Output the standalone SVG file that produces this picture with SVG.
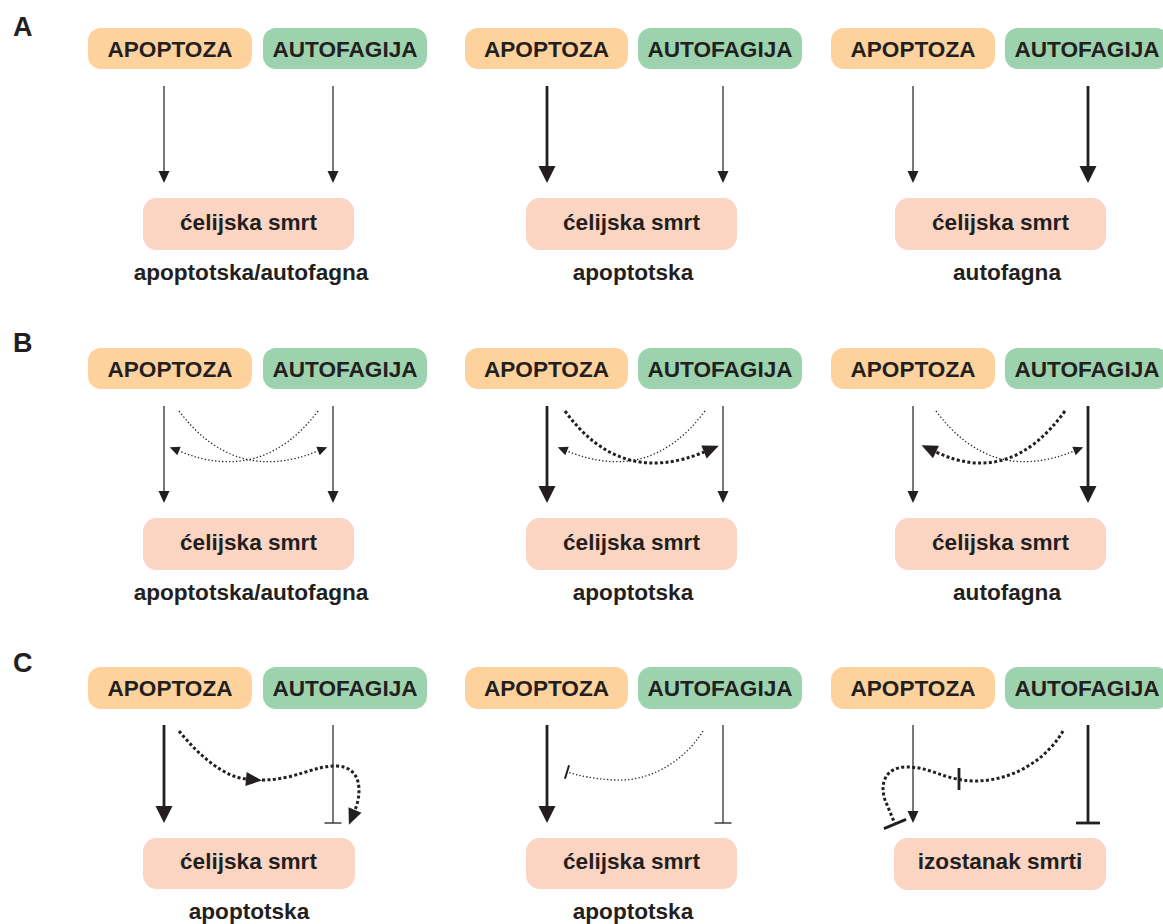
<svg xmlns="http://www.w3.org/2000/svg" width="1163" height="924" viewBox="0 0 1163 924">
<style>
.t{font-family:"Liberation Sans",Arial,sans-serif;font-weight:bold;font-size:22.6px;fill:#231f20;text-anchor:middle}
.lt{font-family:"Liberation Sans",Arial,sans-serif;font-weight:bold;font-size:27px;fill:#231f20}
.apo{fill:#fed29c}
.aut{fill:#9cd3ae}
.cs{fill:#fcd4c2}
.thin{stroke:#231f20;stroke-width:1.2;fill:none}
.thick{stroke:#231f20;stroke-width:2.8;fill:none}
.dt{stroke:#231f20;stroke-width:1.3;fill:none;stroke-dasharray:1.3 2.2}
.dk{stroke:#231f20;stroke-width:3;fill:none;stroke-dasharray:3 2.4}
marker{overflow:visible}
</style>
<defs>
<marker id="ah" viewBox="0 0 12 11" refX="0" refY="5.5" markerWidth="12" markerHeight="11" orient="auto" markerUnits="userSpaceOnUse"><path d="M0,0L12,5.5L0,11z" fill="#231f20"/></marker>
<marker id="ahT" viewBox="0 0 17 17" refX="0" refY="8.5" markerWidth="17" markerHeight="17" orient="auto" markerUnits="userSpaceOnUse"><path d="M0,0L17,8.5L0,17z" fill="#231f20"/></marker>
<marker id="ahc" viewBox="0 0 10 9" refX="0" refY="4.5" markerWidth="10" markerHeight="9" orient="auto" markerUnits="userSpaceOnUse"><path d="M0,0L10,4.5L0,9z" fill="#231f20"/></marker>
<marker id="ahcT" viewBox="0 0 16 14" refX="0" refY="7" markerWidth="16" markerHeight="14" orient="auto" markerUnits="userSpaceOnUse"><path d="M0,0L16,7L0,14z" fill="#231f20"/></marker>
<marker id="tb" viewBox="-1 -9 2 18" refX="0" refY="0" markerWidth="2" markerHeight="18" orient="auto" markerUnits="userSpaceOnUse"><path d="M0,-8.5V8.5" stroke="#231f20" stroke-width="1.3"/></marker>
<marker id="tbT" viewBox="-2 -12 4 24" refX="0" refY="0" markerWidth="4" markerHeight="24" orient="auto" markerUnits="userSpaceOnUse"><path d="M0,-12V12" stroke="#231f20" stroke-width="2.8"/></marker>
<marker id="tbc" viewBox="-1 -7 2 14" refX="0" refY="0" markerWidth="2" markerHeight="14" orient="auto" markerUnits="userSpaceOnUse"><path d="M0,-7V7" stroke="#231f20" stroke-width="2"/></marker>
<marker id="tbcT" viewBox="-2 -12 4 24" refX="0" refY="0" markerWidth="4" markerHeight="24" orient="auto" markerUnits="userSpaceOnUse"><path d="M0,-12V12" stroke="#231f20" stroke-width="2.8"/></marker>
</defs>

<g id="labels">
<text class="lt" x="13" y="36">A</text>
<text class="lt" x="13" y="352">B</text>
<text class="lt" x="13" y="672">C</text>
</g>

<!-- Row A -->
<g id="A1-apoptoza"><rect class="apo" x="88" y="28" width="164" height="41" rx="13"/><text class="t" x="170" y="57">APOPTOZA</text></g>
<g id="A1-autofagija"><rect class="aut" x="263" y="28" width="164" height="41" rx="13"/><text class="t" x="345" y="57">AUTOFAGIJA</text></g>
<g id="A1-smrt"><rect class="cs" x="143" y="198" width="211" height="52" rx="14"/><text class="t" x="248.5" y="230">ćelijska smrt</text><text class="t" x="251" y="280">apoptotska/autofagna</text></g>

<g id="A2-apoptoza"><rect class="apo" x="465" y="28" width="163" height="41" rx="13"/><text class="t" x="546.5" y="57">APOPTOZA</text></g>
<g id="A2-autofagija"><rect class="aut" x="638" y="28" width="164" height="41" rx="13"/><text class="t" x="720" y="57">AUTOFAGIJA</text></g>
<g id="A2-smrt"><rect class="cs" x="526" y="198" width="211" height="52" rx="14"/><text class="t" x="631.5" y="230">ćelijska smrt</text><text class="t" x="633" y="280">apoptotska</text></g>

<g id="A3-apoptoza"><rect class="apo" x="831" y="28" width="164" height="41" rx="13"/><text class="t" x="913" y="57">APOPTOZA</text></g>
<g id="A3-autofagija"><rect class="aut" x="1005" y="28" width="164" height="41" rx="13"/><text class="t" x="1087" y="57">AUTOFAGIJA</text></g>
<g id="A3-smrt"><rect class="cs" x="895" y="198" width="211" height="52" rx="14"/><text class="t" x="1000.5" y="230">ćelijska smrt</text><text class="t" x="1007" y="280">autofagna</text></g>

<!-- Row B -->
<g id="B1-apoptoza"><rect class="apo" x="88" y="348" width="164" height="41" rx="13"/><text class="t" x="170" y="377">APOPTOZA</text></g>
<g id="B1-autofagija"><rect class="aut" x="263" y="348" width="164" height="41" rx="13"/><text class="t" x="345" y="377">AUTOFAGIJA</text></g>
<g id="B1-smrt"><rect class="cs" x="143" y="518" width="211" height="52" rx="14"/><text class="t" x="248.5" y="550">ćelijska smrt</text><text class="t" x="251" y="600">apoptotska/autofagna</text></g>

<g id="B2-apoptoza"><rect class="apo" x="465" y="348" width="163" height="41" rx="13"/><text class="t" x="546.5" y="377">APOPTOZA</text></g>
<g id="B2-autofagija"><rect class="aut" x="638" y="348" width="164" height="41" rx="13"/><text class="t" x="720" y="377">AUTOFAGIJA</text></g>
<g id="B2-smrt"><rect class="cs" x="526" y="518" width="211" height="52" rx="14"/><text class="t" x="631.5" y="550">ćelijska smrt</text><text class="t" x="633" y="600">apoptotska</text></g>

<g id="B3-apoptoza"><rect class="apo" x="831" y="348" width="164" height="41" rx="13"/><text class="t" x="913" y="377">APOPTOZA</text></g>
<g id="B3-autofagija"><rect class="aut" x="1005" y="348" width="164" height="41" rx="13"/><text class="t" x="1087" y="377">AUTOFAGIJA</text></g>
<g id="B3-smrt"><rect class="cs" x="895" y="518" width="211" height="52" rx="14"/><text class="t" x="1000.5" y="550">ćelijska smrt</text><text class="t" x="1007" y="600">autofagna</text></g>

<!-- Row C -->
<g id="C1-apoptoza"><rect class="apo" x="88" y="667" width="164" height="42" rx="13"/><text class="t" x="170" y="696">APOPTOZA</text></g>
<g id="C1-autofagija"><rect class="aut" x="263" y="667" width="164" height="42" rx="13"/><text class="t" x="345" y="696">AUTOFAGIJA</text></g>
<g id="C1-smrt"><rect class="cs" x="143" y="838" width="212" height="51" rx="14"/><text class="t" x="248.5" y="869">ćelijska smrt</text><text class="t" x="249" y="919">apoptotska</text></g>

<g id="C2-apoptoza"><rect class="apo" x="465" y="667" width="163" height="42" rx="13"/><text class="t" x="546.5" y="696">APOPTOZA</text></g>
<g id="C2-autofagija"><rect class="aut" x="638" y="667" width="164" height="42" rx="13"/><text class="t" x="720" y="696">AUTOFAGIJA</text></g>
<g id="C2-smrt"><rect class="cs" x="526" y="838" width="211" height="51" rx="14"/><text class="t" x="631.5" y="869">ćelijska smrt</text><text class="t" x="633" y="919">apoptotska</text></g>

<g id="C3-apoptoza"><rect class="apo" x="831" y="667" width="164" height="42" rx="13"/><text class="t" x="913" y="696">APOPTOZA</text></g>
<g id="C3-autofagija"><rect class="aut" x="1005" y="667" width="164" height="42" rx="13"/><text class="t" x="1087" y="696">AUTOFAGIJA</text></g>
<g id="C3-smrt"><rect class="cs" x="894" y="838" width="212" height="52" rx="14"/><text class="t" x="1000" y="869">izostanak smrti</text></g>

<g id="connectors">
<!-- Row A -->
<line class="thin" x1="164" y1="86" x2="164" y2="171" marker-end="url(#ah)"/>
<line class="thin" x1="333" y1="86" x2="333" y2="171" marker-end="url(#ah)"/>
<line class="thick" x1="547" y1="86" x2="547" y2="166" marker-end="url(#ahT)"/>
<line class="thin" x1="723" y1="86" x2="723" y2="171" marker-end="url(#ah)"/>
<line class="thin" x1="913" y1="86" x2="913" y2="171" marker-end="url(#ah)"/>
<line class="thick" x1="1088" y1="86" x2="1088" y2="166" marker-end="url(#ahT)"/>

<!-- Row B -->
<line class="thin" x1="164" y1="406" x2="164" y2="491" marker-end="url(#ah)"/>
<line class="thin" x1="333" y1="406" x2="333" y2="491" marker-end="url(#ah)"/>
<path class="dt" d="M179,411 Q235,485 318,451" marker-end="url(#ahc)"/>
<path class="dt" d="M318,411 Q262,485 179,451" marker-end="url(#ahc)"/>

<line class="thick" x1="547" y1="406" x2="547" y2="486" marker-end="url(#ahT)"/>
<line class="thin" x1="723" y1="406" x2="723" y2="491" marker-end="url(#ah)"/>
<path class="dk" d="M565,411 Q620,487 704,452" marker-end="url(#ahcT)"/>
<path class="dt" d="M705,411 Q650,485 567,451" marker-end="url(#ahc)"/>

<line class="thin" x1="913" y1="406" x2="913" y2="491" marker-end="url(#ah)"/>
<line class="thick" x1="1088" y1="406" x2="1088" y2="486" marker-end="url(#ahT)"/>
<path class="dt" d="M936,411 Q991,485 1074,451" marker-end="url(#ahc)"/>
<path class="dk" d="M1065,411 Q1010,487 936,452" marker-end="url(#ahcT)"/>

<!-- Row C -->
<line class="thick" x1="164" y1="725" x2="164" y2="806" marker-end="url(#ahT)"/>
<line class="thin" x1="333" y1="725" x2="333" y2="823" marker-end="url(#tb)"/>
<path class="dk" d="M179,731 C200,757 225,777 246,779" marker-end="url(#ahcT)"/>
<path class="dk" d="M262,780 C295,780 315,765 337,766 C362,767 362,793 355,810" marker-end="url(#ahcT)"/>

<line class="thick" x1="547" y1="725" x2="547" y2="806" marker-end="url(#ahT)"/>
<line class="thin" x1="723" y1="725" x2="723" y2="823" marker-end="url(#tb)"/>
<path class="dt" d="M703,731 C682,765 645,782 615,780 C595,779 580,776 567,772" marker-end="url(#tbc)"/>

<line class="thin" x1="913" y1="725" x2="913" y2="811" marker-end="url(#ah)"/>
<line class="thick" x1="1088" y1="725" x2="1088" y2="823" marker-end="url(#tbT)"/>
<path class="dk" d="M1063,731 C1045,762 1010,781 975,781 C945,781 930,766 905,767 C884,768 880,785 885,800 L895,824" marker-end="url(#tbcT)"/>
<line class="thick" x1="959" y1="768" x2="959" y2="790"/>
</g>
</svg>
